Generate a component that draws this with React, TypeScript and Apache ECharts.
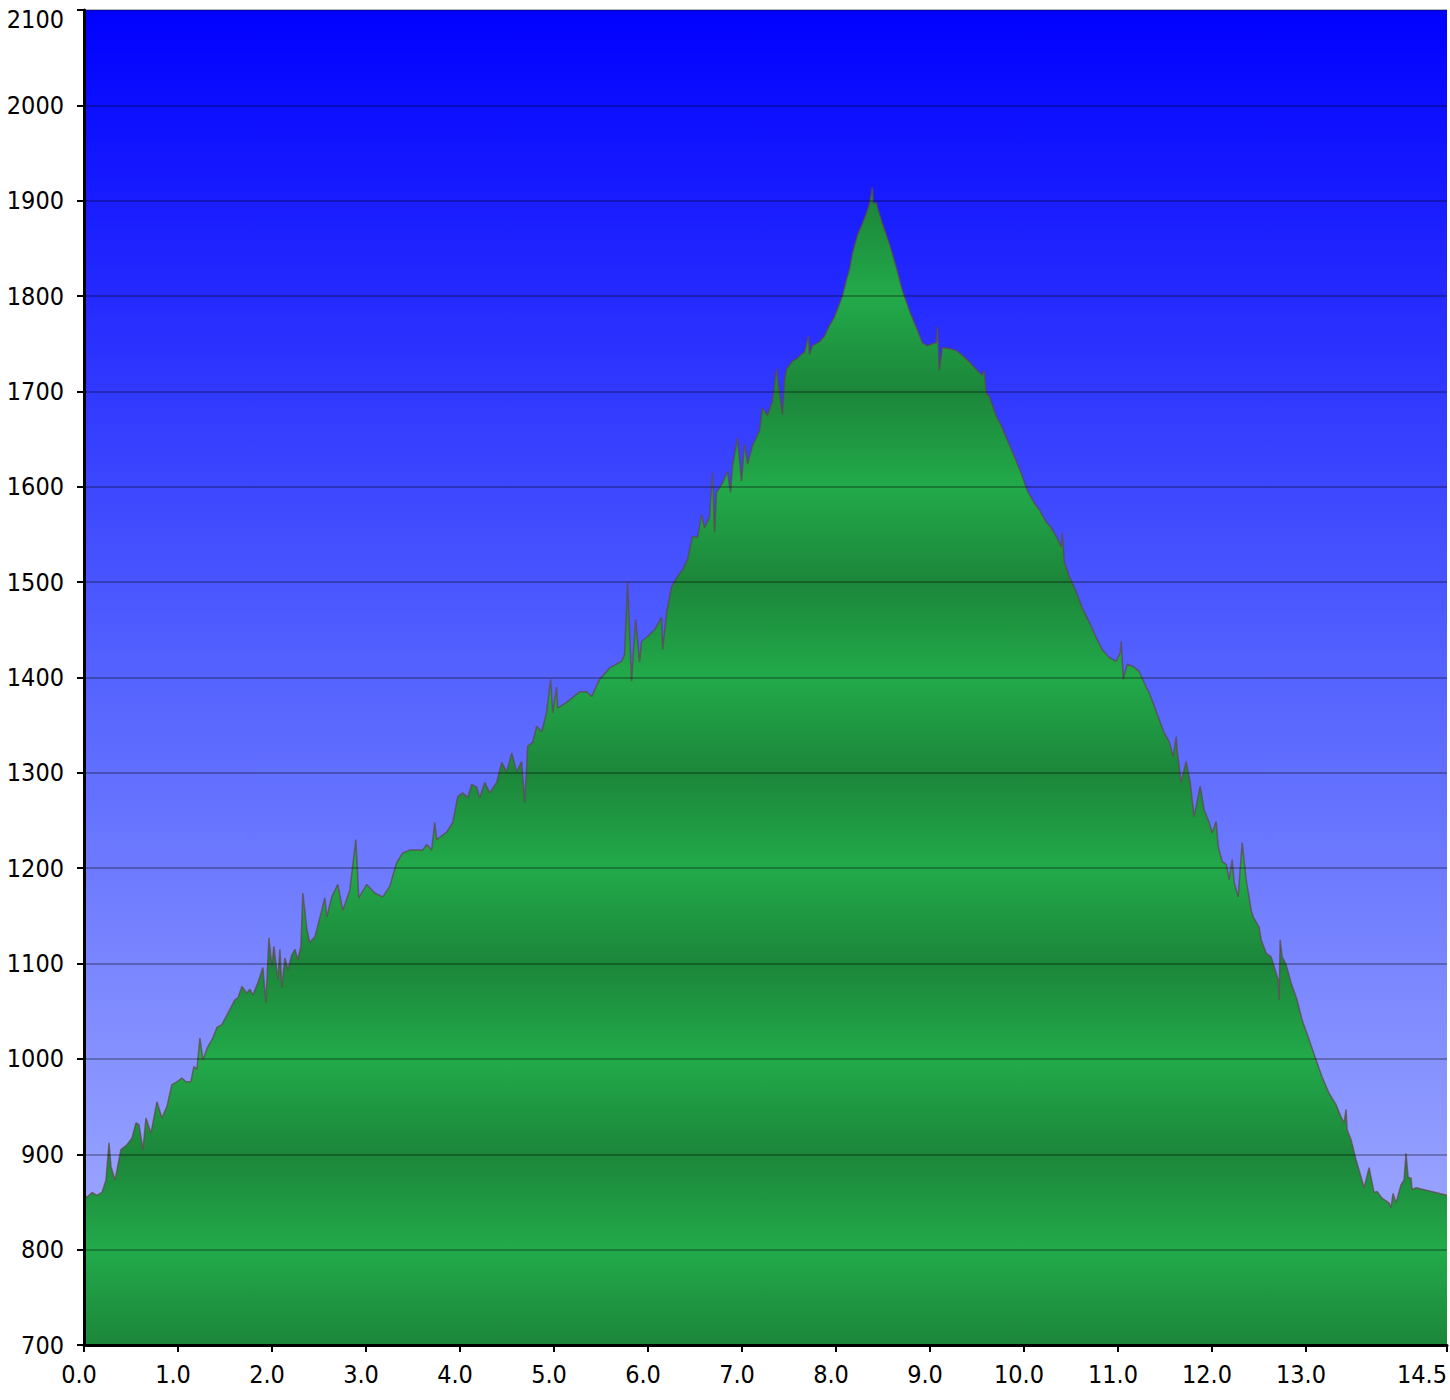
import React, { useEffect, useRef } from "react";
import * as echarts from "echarts";

// Distance along the route (km)
const distKm = [
  0.000, 0.032, 0.085, 0.138, 0.191, 0.234, 0.266, 0.287, 0.330, 0.393,
  0.457, 0.510, 0.553, 0.585, 0.627, 0.659, 0.712, 0.776, 0.829, 0.882,
  0.935, 0.989, 1.042, 1.084, 1.137, 1.169, 1.201, 1.233, 1.265, 1.318,
  1.371, 1.414, 1.467, 1.531, 1.605, 1.637, 1.680, 1.733, 1.765, 1.797,
  1.850, 1.903, 1.935, 1.967, 1.999, 2.020, 2.062, 2.084, 2.105, 2.137,
  2.169, 2.211, 2.243, 2.275, 2.307, 2.328, 2.371, 2.402, 2.456, 2.530,
  2.562, 2.583, 2.636, 2.700, 2.753, 2.828, 2.892, 2.923, 3.008, 3.093,
  3.178, 3.253, 3.327, 3.391, 3.466, 3.519, 3.604, 3.646, 3.699, 3.731,
  3.753, 3.859, 3.923, 3.976, 4.029, 4.082, 4.125, 4.178, 4.210, 4.263,
  4.316, 4.390, 4.444, 4.497, 4.550, 4.603, 4.656, 4.688, 4.720, 4.773,
  4.816, 4.869, 4.922, 4.964, 4.986, 5.028, 5.039, 5.134, 5.273, 5.347,
  5.400, 5.485, 5.592, 5.719, 5.751, 5.783, 5.825, 5.868, 5.910, 5.932,
  5.996, 6.070, 6.144, 6.155, 6.198, 6.251, 6.314, 6.368, 6.421, 6.474,
  6.527, 6.570, 6.601, 6.655, 6.686, 6.708, 6.729, 6.793, 6.846, 6.878,
  6.899, 6.952, 6.995, 7.027, 7.059, 7.112, 7.186, 7.218, 7.271, 7.324,
  7.367, 7.399, 7.431, 7.452, 7.473, 7.537, 7.580, 7.633, 7.665, 7.707,
  7.718, 7.750, 7.824, 7.877, 7.930, 7.983, 8.037, 8.068, 8.111, 8.143,
  8.175, 8.228, 8.281, 8.324, 8.356, 8.387, 8.398, 8.430, 8.441, 8.494,
  8.568, 8.643, 8.706, 8.781, 8.855, 8.919, 8.972, 9.025, 9.068, 9.079,
  9.100, 9.131, 9.206, 9.280, 9.344, 9.419, 9.493, 9.557, 9.578, 9.599,
  9.631, 9.706, 9.759, 9.823, 9.897, 9.971, 10.035, 10.109, 10.163, 10.237,
  10.290, 10.343, 10.397, 10.407, 10.429, 10.482, 10.556, 10.620, 10.694, 10.769,
  10.832, 10.907, 10.981, 11.024, 11.034, 11.056, 11.098, 11.172, 11.226, 11.300,
  11.332, 11.385, 11.438, 11.491, 11.544, 11.587, 11.619, 11.629, 11.672, 11.725,
  11.768, 11.810, 11.874, 11.917, 11.970, 12.002, 12.044, 12.066, 12.108, 12.151,
  12.183, 12.214, 12.236, 12.278, 12.321, 12.363, 12.417, 12.438, 12.502, 12.523,
  12.576, 12.629, 12.661, 12.703, 12.714, 12.725, 12.746, 12.788, 12.841, 12.905,
  12.958, 13.033, 13.107, 13.171, 13.245, 13.320, 13.373, 13.405, 13.426, 13.437,
  13.480, 13.533, 13.586, 13.618, 13.671, 13.724, 13.756, 13.809, 13.883, 13.905,
  13.926, 13.958, 14.011, 14.043, 14.064, 14.086, 14.118, 14.128, 14.171, 14.500,
];

// Elevation (m)
const elevM = [
  858, 855, 860, 857, 860, 873, 912, 887, 873, 905,
  910, 917, 933, 931, 905, 938, 922, 955, 938, 950,
  973, 976, 980, 976, 976, 992, 989, 1022, 999, 1013,
  1022, 1033, 1036, 1048, 1062, 1064, 1076, 1069, 1073, 1067,
  1080, 1096, 1059, 1127, 1097, 1118, 1083, 1115, 1075, 1106,
  1094, 1109, 1115, 1104, 1118, 1174, 1136, 1122, 1128, 1156,
  1169, 1149, 1170, 1183, 1156, 1177, 1230, 1169, 1183, 1174,
  1170, 1181, 1206, 1216, 1219, 1219, 1219, 1225, 1219, 1248,
  1230, 1238, 1248, 1275, 1279, 1274, 1288, 1285, 1274, 1290,
  1279, 1290, 1311, 1301, 1321, 1301, 1312, 1269, 1328, 1332,
  1349, 1343, 1364, 1398, 1363, 1390, 1368, 1374, 1385, 1385,
  1380, 1398, 1410, 1417, 1424, 1500, 1396, 1461, 1416, 1438,
  1443, 1450, 1463, 1429, 1468, 1495, 1506, 1513, 1524, 1548,
  1547, 1571, 1557, 1568, 1615, 1552, 1594, 1604, 1616, 1594,
  1622, 1651, 1606, 1645, 1624, 1643, 1659, 1683, 1675, 1690,
  1724, 1698, 1676, 1711, 1723, 1732, 1734, 1739, 1741, 1758,
  1739, 1748, 1752, 1758, 1769, 1778, 1792, 1800, 1817, 1828,
  1845, 1864, 1876, 1887, 1897, 1914, 1897, 1898, 1893, 1876,
  1855, 1830, 1806, 1785, 1767, 1751, 1748, 1750, 1751, 1768,
  1722, 1746, 1745, 1743, 1738, 1731, 1723, 1717, 1722, 1698,
  1695, 1674, 1664, 1649, 1632, 1614, 1596, 1583, 1576, 1563,
  1557, 1548, 1537, 1552, 1521, 1506, 1490, 1473, 1458, 1442,
  1429, 1421, 1417, 1426, 1438, 1398, 1414, 1411, 1406, 1390,
  1384, 1370, 1356, 1342, 1333, 1317, 1338, 1324, 1290, 1312,
  1290, 1254, 1286, 1261, 1248, 1237, 1249, 1223, 1207, 1204,
  1188, 1209, 1185, 1170, 1227, 1188, 1156, 1149, 1138, 1125,
  1111, 1107, 1097, 1083, 1062, 1125, 1107, 1099, 1080, 1062,
  1041, 1020, 999, 981, 964, 952, 939, 933, 947, 926,
  915, 894, 876, 865, 886, 860, 861, 854, 849, 844,
  859, 849, 868, 873, 901, 876, 875, 863, 865, 857,
];

const xTickValues = [0, 1, 2, 3, 4, 5, 6, 7, 8, 9, 10, 11, 12, 13, 14.5];
const yMin = 700;
const yMax = 2100;
const yStep = 100;

const FONT = "'DejaVu Sans Condensed', 'DejaVu Sans', sans-serif";
const GRID = { left: 84, right: 2, top: 10, bottom: 55 };
const W = 1450;
const H = 1400;

export default function App() {
  const ref = useRef<HTMLDivElement>(null);

  useEffect(() => {
    if (!ref.current) return;
    const chart = echarts.init(ref.current, undefined, { renderer: "svg" });

    const data = distKm.map((d, i) => [d, elevM[i]]);

    // banded green fill: light at even hundreds, dark at odd hundreds
    const LIGHT = "#22aa4a";
    const DARK = "#1c863a";
    const stops: { offset: number; color: string }[] = [];
    for (let v = yMax; v >= yMin; v -= yStep) {
      const off = (yMax - v) / (yMax - yMin);
      stops.push({ offset: off, color: (v / 100) % 2 === 0 ? LIGHT : DARK });
    }
    const plotTop = GRID.top;
    const plotBottom = H - GRID.bottom;
    const areaFill = new echarts.graphic.LinearGradient(0, plotTop, 0, plotBottom, stops, true);

    const bgFill = new echarts.graphic.LinearGradient(0, 0, 0, 1, [
      { offset: 0, color: "#0000ff" },
      { offset: 0.5, color: "#5563ff" },
      { offset: 1, color: "#aab4ff" },
    ]);

    const labelBase = { fontFamily: FONT, fontSize: 25, color: "#000" };

    chart.setOption({
      animation: false,
      backgroundColor: "#ffffff",
      grid: {
        ...GRID,
        show: true,
        backgroundColor: bgFill,
        borderWidth: 0,
      },
      xAxis: {
        type: "value",
        min: 0,
        max: 14.5,
        z: 3,
        axisLine: { show: true, onZero: false, lineStyle: { color: "#000", width: 3 } },
        axisTick: {
          show: true,
          length: 7,
          customValues: xTickValues,
          lineStyle: { color: "#000", width: 2 },
        },
        splitLine: { show: false },
        axisLabel: {
          customValues: xTickValues,
          margin: 17,
          alignMaxLabel: "right",
          ...labelBase,
          formatter: (v: number) =>
            v === 14.5 ? `{e|${v.toFixed(1)}}` : `{n|${v.toFixed(1)}}`,
          rich: {
            n: { ...labelBase, padding: [0, 10, 0, 0] },
            e: { ...labelBase },
          },
        },
      },
      yAxis: {
        type: "value",
        min: yMin,
        max: yMax,
        interval: yStep,
        z: 3,
        axisLine: { show: true, onZero: false, lineStyle: { color: "#000", width: 3 } },
        axisTick: { show: true, length: 7, lineStyle: { color: "#000", width: 2 } },
        splitLine: { show: true, lineStyle: { color: "rgba(0,0,0,0.28)", width: 2 } },
        axisLabel: {
          margin: 20,
          ...labelBase,
          formatter: (v: number) => (v === yMax ? `{t|${v}}` : `{n|${v}}`),
          rich: {
            n: { ...labelBase },
            t: { ...labelBase, padding: [18, 0, 0, 0] },
          },
        },
      },
      series: [
        {
          type: "line",
          data,
          symbol: "none",
          showSymbol: false,
          z: 2,
          lineStyle: { color: "rgba(95,70,70,0.7)", width: 1.5 },
          areaStyle: { color: areaFill, opacity: 1, origin: "start" },
        },
      ],
    });

    return () => chart.dispose();
  }, []);

  return (
    <div
      ref={ref}
      style={{ position: "absolute", left: 0, top: 0, width: W, height: H, background: "#fff" }}
    />
  );
}
